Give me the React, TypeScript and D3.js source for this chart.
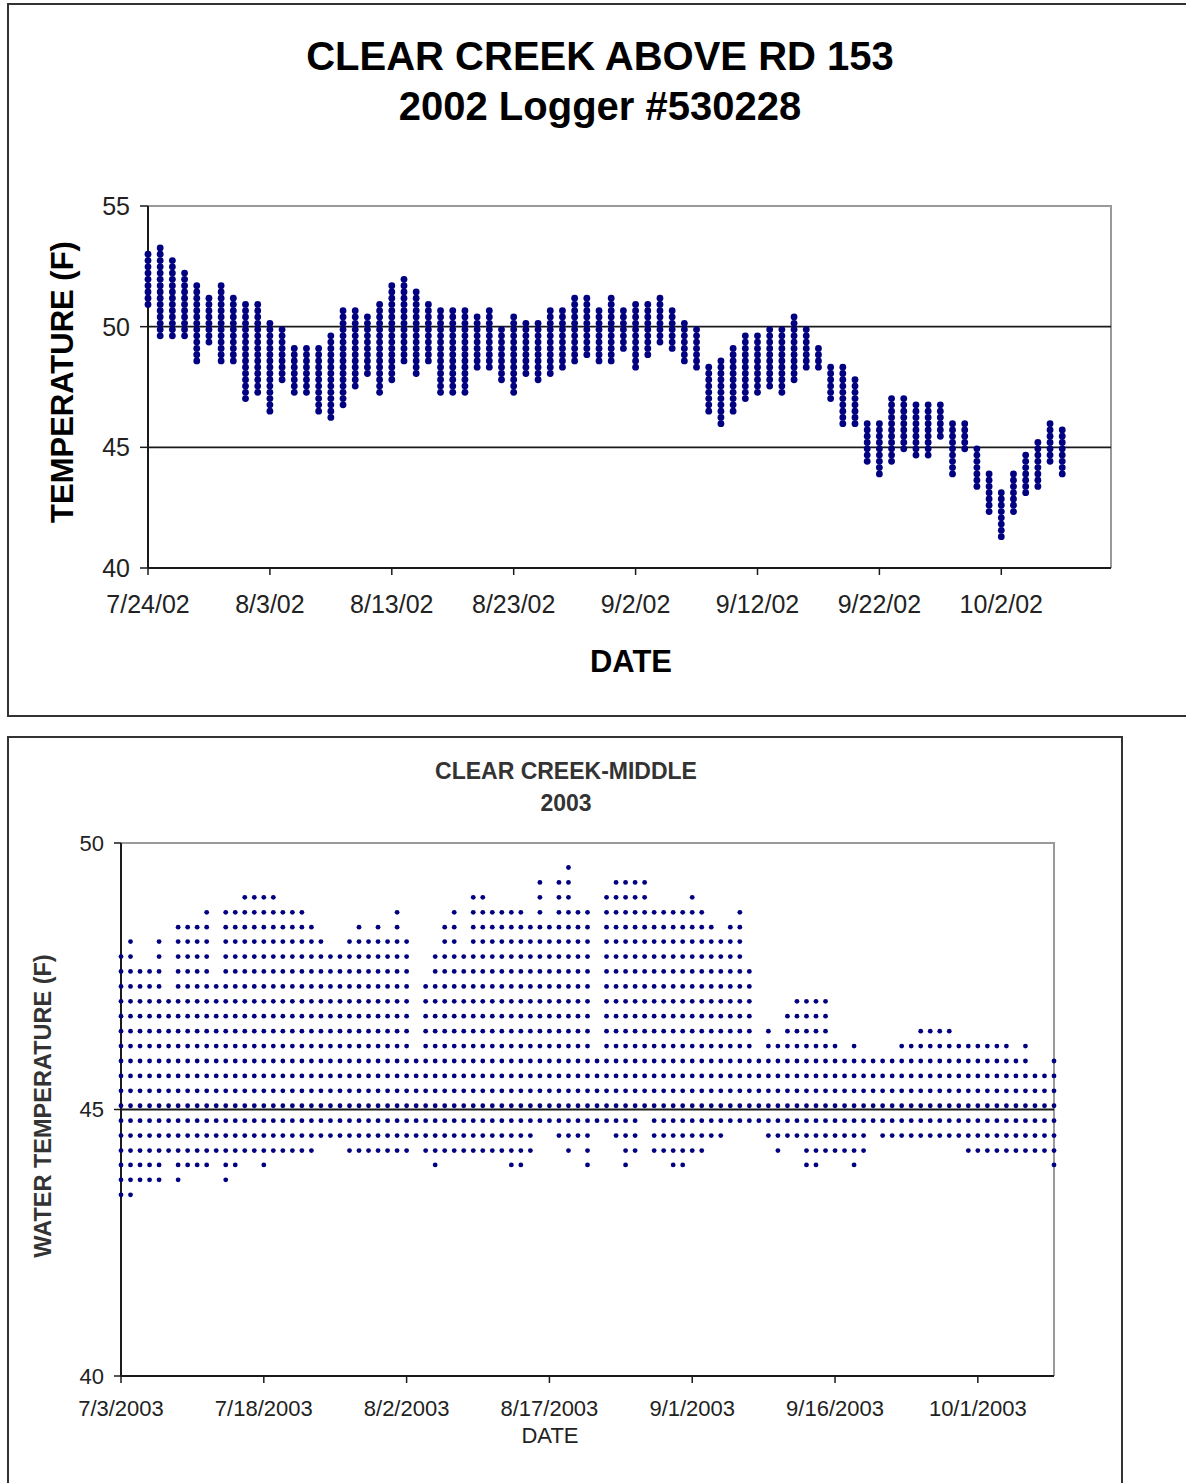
import React from 'react';
import * as d3 from 'd3';

// ---------- 2002 chart data (Clear Creek above Rd 153, logger #530228) ----------
const TOP_TITLE = ['CLEAR CREEK ABOVE RD 153', '2002 Logger #530228'];
const TOP_TICK_DATES = ['2002-07-24', '2002-08-03', '2002-08-13', '2002-08-23', '2002-09-02', '2002-09-12', '2002-09-22', '2002-10-02'];
const TOP_TICK_LABELS = ['7/24/02', '8/3/02', '8/13/02', '8/23/02', '9/2/02', '9/12/02', '9/22/02', '10/2/02'];
const TOP_Y_TICKS = [40, 45, 50, 55];
const TOP_GRID = [45, 50];
// logger resolution levels (deg F) visible in the 2002 plot
const TOP_LEVELS = [41.3, 41.56, 41.82, 42.08, 42.34, 42.6, 42.86, 43.12, 43.38, 43.64, 43.9, 44.16, 44.42, 44.68, 44.94, 45.2, 45.46, 45.72, 45.98, 46.24, 46.5, 46.76, 47.02, 47.28, 47.54, 47.8, 48.06, 48.32, 48.58, 48.84, 49.1, 49.36, 49.62, 49.88, 50.14, 50.4, 50.66, 50.92, 51.18, 51.44, 51.7, 51.96, 52.22, 52.48, 52.74, 53.0, 53.26];
// daily min / max readings, one per day from 7/24/02
const TOP_DAY_MIN = [50.8, 49.7, 49.7, 49.7, 48.5, 49.4, 48.5, 48.5, 46.9, 47.4, 46.4, 47.7, 47.4, 47.4, 46.6, 46.3, 46.8, 47.5, 48.0, 47.2, 47.8, 48.5, 48.0, 48.6, 47.2, 47.2, 47.2, 48.2, 48.2, 47.7, 47.2, 48.0, 47.9, 48.0, 48.3, 48.5, 48.9, 48.5, 48.5, 49.1, 48.3, 48.9, 49.4, 49.1, 48.5, 48.3, 46.6, 46.0, 46.6, 47.0, 47.2, 47.5, 47.2, 47.8, 48.3, 48.3, 46.9, 46.1, 46.0, 44.4, 43.8, 44.4, 44.9, 44.6, 44.6, 45.5, 43.8, 44.9, 43.5, 42.3, 41.3, 42.3, 43.0, 43.5, 44.4, 43.9];
const TOP_DAY_MAX = [52.9, 53.2, 52.8, 52.3, 51.7, 51.2, 51.7, 51.2, 50.9, 50.9, 50.2, 49.8, 49.2, 49.0, 49.0, 49.5, 50.6, 50.6, 50.4, 50.9, 51.7, 52.0, 51.4, 50.9, 50.6, 50.6, 50.6, 50.4, 50.6, 49.8, 50.4, 50.2, 50.2, 50.6, 50.6, 51.2, 51.2, 50.6, 51.2, 50.6, 50.9, 50.9, 51.2, 50.6, 50.2, 49.8, 48.4, 48.7, 49.0, 49.5, 49.5, 49.8, 49.8, 50.3, 49.8, 49.0, 48.4, 48.4, 47.9, 46.1, 46.1, 47.0, 47.0, 46.8, 46.8, 46.8, 45.9, 45.9, 45.0, 43.9, 43.1, 44.0, 44.6, 45.1, 46.1, 45.6];

// ---------- 2003 chart data (Clear Creek - Middle) ----------
const BOT_TITLE = ['CLEAR CREEK-MIDDLE', '2003'];
const BOT_TICK_DATES = ['2003-07-03', '2003-07-18', '2003-08-02', '2003-08-17', '2003-09-01', '2003-09-16', '2003-10-01'];
const BOT_TICK_LABELS = ['7/3/2003', '7/18/2003', '8/2/2003', '8/17/2003', '9/1/2003', '9/16/2003', '10/1/2003'];
const BOT_Y_TICKS = [40, 45, 50];
const BOT_GRID = [45];
const BOT_LEVELS = [43.4, 43.68, 43.96, 44.23, 44.51, 44.79, 45.07, 45.35, 45.63, 45.91, 46.19, 46.47, 46.75, 47.03, 47.31, 47.59, 47.87, 48.15, 48.42, 48.7, 48.98, 49.26, 49.54];
// index into BOT_LEVELS of each day's lowest / highest reading, from 7/3/2003
const BOT_DAY_LO = [0, 0, 1, 1, 1, 3, 1, 2, 2, 2, 3, 1, 2, 3, 3, 2, 3, 3, 3, 3, 3, 4, 4, 4, 3, 3, 3, 3, 3, 3, 3, 4, 3, 2, 3, 3, 3, 3, 3, 3, 3, 2, 2, 3, 5, 5, 4, 3, 4, 2, 5, 5, 4, 2, 3, 6, 3, 3, 2, 2, 3, 3, 4, 4, 5, 5, 5, 5, 4, 3, 4, 4, 2, 2, 3, 3, 3, 2, 3, 5, 4, 4, 4, 4, 4, 4, 4, 4, 4, 3, 3, 3, 3, 3, 3, 3, 3, 3, 2];
const BOT_DAY_HI = [16, 17, 15, 15, 17, 13, 18, 18, 18, 19, 14, 19, 19, 20, 20, 20, 20, 19, 19, 19, 18, 17, 16, 16, 17, 18, 17, 18, 17, 19, 17, 9, 14, 16, 18, 19, 16, 20, 20, 19, 19, 19, 19, 18, 21, 18, 21, 22, 19, 19, 9, 20, 21, 21, 21, 21, 19, 19, 19, 19, 20, 19, 18, 17, 18, 19, 15, 9, 11, 10, 12, 13, 13, 13, 13, 10, 9, 10, 9, 9, 9, 9, 10, 10, 11, 11, 11, 11, 10, 10, 10, 10, 10, 10, 9, 10, 8, 8, 9];

const FONT = '"Liberation Sans", Arial, Helvetica, sans-serif';
const NAVY = '#000080';
const AXIS = '#1a1a1a';
const FRAME = '#9a9a9a';

const parse = d3.utcParse('%Y-%m-%d');

function TopChart() {
  const x0 = parse('2002-07-24')!;
  const x = d3.scaleUtc().domain([x0, d3.utcDay.offset(x0, 79)]).range([148, 1111]);
  const y = d3.scaleLinear().domain([40, 55]).range([568, 206]);
  const dots: { cx: number; cy: number }[] = [];
  TOP_DAY_MIN.forEach((lo, i) => {
    const hi = TOP_DAY_MAX[i];
    const cx = x(d3.utcDay.offset(x0, i));
    TOP_LEVELS.filter((v) => v >= lo - 0.13 && v <= hi + 0.13).forEach((v) => dots.push({ cx, cy: y(v) }));
  });
  const [xl, xr] = x.range();
  const [yb, yt] = y.range();
  return (
    <g>
      {/* panel border */}
      <path d="M1186,4 H8 V716 H1186" fill="none" stroke="#333" strokeWidth={2} />
      <text x={600} y={70} textAnchor="middle" fontFamily={FONT} fontWeight="bold" fontSize={40} fill="#000">{TOP_TITLE[0]}</text>
      <text x={600} y={120} textAnchor="middle" fontFamily={FONT} fontWeight="bold" fontSize={40} fill="#000">{TOP_TITLE[1]}</text>
      {/* plot frame */}
      <path d={`M${xl},${yt} H${xr} V${yb}`} fill="none" stroke={FRAME} strokeWidth={2} />
      {TOP_GRID.map((g) => (
        <line key={g} x1={xl} x2={xr} y1={y(g)} y2={y(g)} stroke={AXIS} strokeWidth={1.8} />
      ))}
      <line x1={xl} x2={xl} y1={yt} y2={yb} stroke={AXIS} strokeWidth={2} />
      <line x1={xl} x2={xr} y1={yb} y2={yb} stroke={AXIS} strokeWidth={2} />
      {TOP_Y_TICKS.map((t) => (
        <g key={t}>
          <line x1={xl - 8} x2={xl} y1={y(t)} y2={y(t)} stroke={AXIS} strokeWidth={1.5} />
          <text x={xl - 18} y={y(t)} dy="0.36em" textAnchor="end" fontFamily={FONT} fontSize={25} fill="#222">{t}</text>
        </g>
      ))}
      {TOP_TICK_DATES.map((d, i) => {
        const tx = x(parse(d)!);
        return (
          <g key={d}>
            <line x1={tx} x2={tx} y1={yb} y2={yb + 7} stroke={AXIS} strokeWidth={1.5} />
            <text x={tx} y={613} textAnchor="middle" fontFamily={FONT} fontSize={25} fill="#222">{TOP_TICK_LABELS[i]}</text>
          </g>
        );
      })}
      {dots.map((d, i) => (
        <circle key={i} cx={d.cx} cy={d.cy} r={3.4} fill={NAVY} />
      ))}
      <text x={631} y={672} textAnchor="middle" fontFamily={FONT} fontWeight="bold" fontSize={31} fill="#000">DATE</text>
      <text transform="translate(73,382) rotate(-90)" textAnchor="middle" fontFamily={FONT} fontWeight="bold" fontSize={31} fill="#000">TEMPERATURE (F)</text>
    </g>
  );
}

function BottomChart() {
  const x0 = parse('2003-07-03')!;
  const x = d3.scaleUtc().domain([x0, d3.utcDay.offset(x0, 98)]).range([121, 1054]);
  const y = d3.scaleLinear().domain([40, 50]).range([1376, 843]);
  const dots: { cx: number; cy: number }[] = [];
  BOT_DAY_LO.forEach((lo, i) => {
    const hi = BOT_DAY_HI[i];
    const cx = x(d3.utcDay.offset(x0, i));
    BOT_LEVELS.forEach((v, j) => {
      if (j >= lo && j <= hi) dots.push({ cx, cy: y(v) });
    });
  });
  const [xl, xr] = x.range();
  const [yb, yt] = y.range();
  return (
    <g>
      <path d="M8,1483 V737 H1122 V1483" fill="none" stroke="#333" strokeWidth={2} />
      <text x={566} y={779} textAnchor="middle" fontFamily={FONT} fontWeight="bold" fontSize={23} fill="#333">{BOT_TITLE[0]}</text>
      <text x={566} y={811} textAnchor="middle" fontFamily={FONT} fontWeight="bold" fontSize={23} fill="#333">{BOT_TITLE[1]}</text>
      <path d={`M${xl},${yt} H${xr} V${yb}`} fill="none" stroke={FRAME} strokeWidth={2} />
      {BOT_GRID.map((g) => (
        <line key={g} x1={xl} x2={xr} y1={y(g)} y2={y(g)} stroke={AXIS} strokeWidth={1.8} />
      ))}
      <line x1={xl} x2={xl} y1={yt} y2={yb} stroke={AXIS} strokeWidth={2} />
      <line x1={xl} x2={xr} y1={yb} y2={yb} stroke={AXIS} strokeWidth={2} />
      {BOT_Y_TICKS.map((t) => (
        <g key={t}>
          <line x1={xl - 7} x2={xl} y1={y(t)} y2={y(t)} stroke={AXIS} strokeWidth={1.5} />
          <text x={xl - 17} y={y(t)} dy="0.36em" textAnchor="end" fontFamily={FONT} fontSize={22} fill="#222">{t}</text>
        </g>
      ))}
      {BOT_TICK_DATES.map((d, i) => {
        const tx = x(parse(d)!);
        return (
          <g key={d}>
            <line x1={tx} x2={tx} y1={yb} y2={yb + 7} stroke={AXIS} strokeWidth={1.5} />
            <text x={tx} y={1416} textAnchor="middle" fontFamily={FONT} fontSize={22} fill="#222">{BOT_TICK_LABELS[i]}</text>
          </g>
        );
      })}
      {dots.map((d, i) => (
        <circle key={i} cx={d.cx} cy={d.cy} r={2.4} fill={NAVY} />
      ))}
      <text x={550} y={1443} textAnchor="middle" fontFamily={FONT} fontSize={22} fill="#222">DATE</text>
      <text transform="translate(51,1106) rotate(-90)" textAnchor="middle" fontFamily={FONT} fontWeight="bold" fontSize={23.5} fill="#333">WATER TEMPERATURE (F)</text>
    </g>
  );
}

export default function App() {
  return (
    <svg width={1186} height={1483} style={{ position: 'absolute', left: 0, top: 0, background: '#fff' }}>
      <rect width={1186} height={1483} fill="#fff" />
      <TopChart />
      <BottomChart />
    </svg>
  );
}
